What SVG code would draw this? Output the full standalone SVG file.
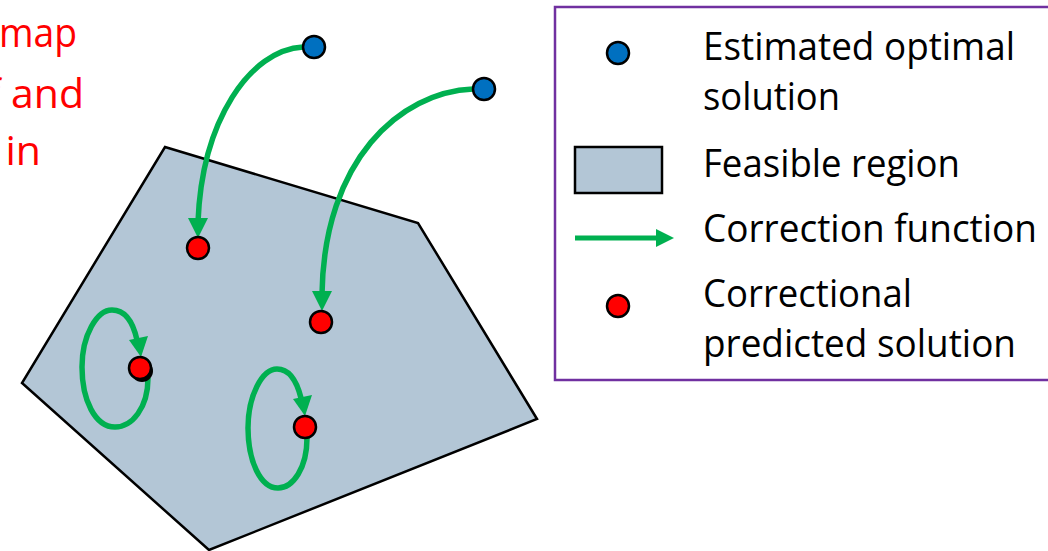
<svg xmlns="http://www.w3.org/2000/svg" width="1048" height="551" viewBox="0 0 1048 551">
<style>
.t{font-family:"Open Sans","Liberation Sans",sans-serif;font-size:38px;fill:#000}
.red-t{fill:#FF0000;font-size:41px}
.g{fill:none;stroke:#00B050;stroke-width:5.5;stroke-linecap:butt}
.blue{fill:#0070C0;stroke:#000;stroke-width:2.5}
.red{fill:#FF0000;stroke:#000;stroke-width:2.5}
.ah{fill:#00B050}
</style>
<rect width="1048" height="551" fill="#fff"/>
<g id="caption">
<text class="t red-t" x="77" y="47" text-anchor="end" textLength="78" lengthAdjust="spacingAndGlyphs">map</text>
<text class="t red-t" x="84" y="108" text-anchor="end">f and</text>
<text class="t red-t" x="41" y="165" text-anchor="end">in</text>
</g>
<g id="feasible-region">
<polygon points="165,147 418,223 537,419 209,550 22,383" fill="#B3C6D6" stroke="#000" stroke-width="2.5" stroke-linejoin="miter"/>
</g>
<g id="connectors">
<path class="g" d="M 303 47 C 250 50 202 120 198 222"/>
<polygon class="ah" points="188,218 208,218 198,238"/>
<path class="g" d="M 473 89 C 400 92 324 160 322 294"/>
<polygon class="ah" points="312,291 332,291 322,311"/>
<path class="g" d="M 148 378 C 148 408 132 427 115 427 C 95 427 82 400 82 367 C 82 335 97 310 112 310 C 125 310 133 322 137 340"/>
<polygon class="ah" points="129,340 148,336 141,357"/>
<path class="g" d="M 307 438 C 307 468 293 488 278 488 C 260 488 248 460 248 428 C 248 396 262 369 277 369 C 290 369 297 382 301 398"/>
<polygon class="ah" points="293,399 312,395 305,416"/>
</g>
<g id="estimated-1"><circle class="blue" cx="314" cy="47" r="11"/></g>
<g id="estimated-2"><circle class="blue" cx="484" cy="89" r="11"/></g>
<g id="corrected-1"><circle class="red" cx="198" cy="248" r="11"/></g>
<g id="corrected-2"><circle class="red" cx="321" cy="322" r="11"/></g>
<g id="corrected-3"><circle cx="142" cy="371" r="11" fill="#000"/><circle class="red" cx="140" cy="368" r="11"/></g>
<g id="corrected-4"><circle class="red" cx="305" cy="427" r="11"/></g>
<g id="legend">
<rect x="555" y="7" width="510" height="373" fill="none" stroke="#7030A0" stroke-width="2.5"/>
<circle class="blue" cx="618" cy="53" r="11"/>
<text class="t" x="703" y="60" textLength="312" lengthAdjust="spacingAndGlyphs">Estimated optimal</text>
<text class="t" x="703" y="110" textLength="137" lengthAdjust="spacingAndGlyphs">solution</text>
<rect x="575" y="147" width="87" height="46" fill="#B3C6D6" stroke="#000" stroke-width="2.5"/>
<text class="t" x="703" y="177" textLength="257" lengthAdjust="spacingAndGlyphs">Feasible region</text>
<line x1="575" y1="238" x2="658" y2="238" stroke="#00B050" stroke-width="5"/>
<polygon class="ah" points="656,229 674,238 656,247"/>
<text class="t" x="703" y="242" textLength="334" lengthAdjust="spacingAndGlyphs">Correction function</text>
<circle class="red" cx="618" cy="306" r="11"/>
<text class="t" x="703" y="307" textLength="209" lengthAdjust="spacingAndGlyphs">Correctional</text>
<text class="t" x="703" y="357" textLength="313" lengthAdjust="spacingAndGlyphs">predicted solution</text>
</g>
</svg>
